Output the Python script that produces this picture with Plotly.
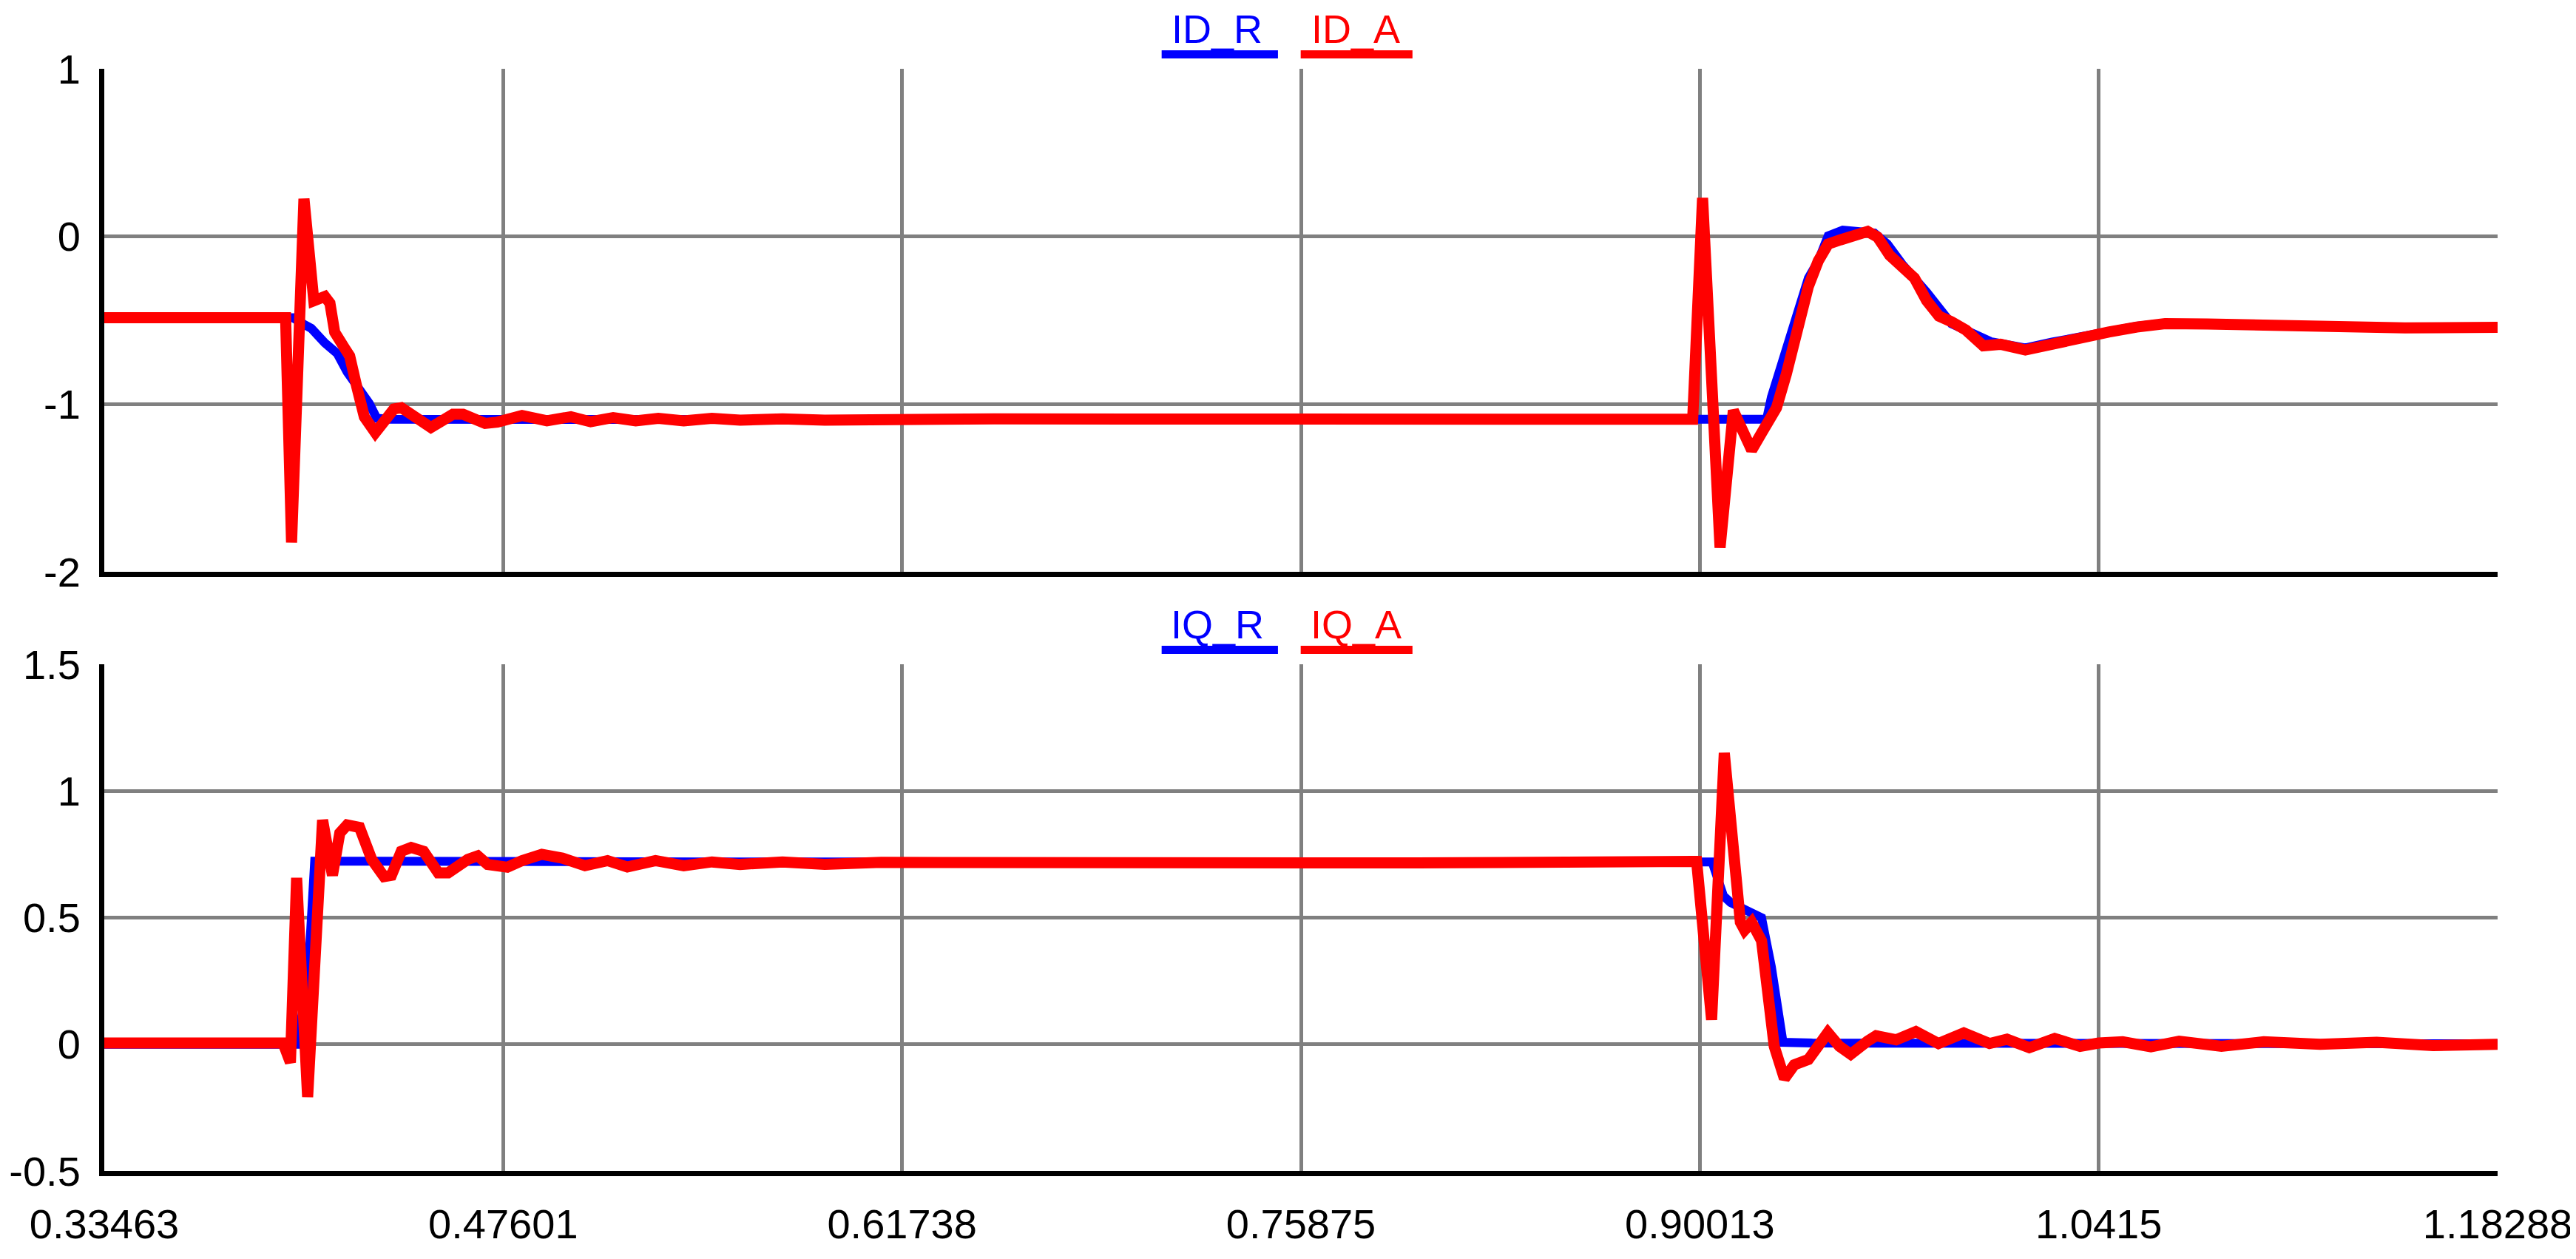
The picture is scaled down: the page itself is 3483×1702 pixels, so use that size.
import plotly.graph_objects as go

# time ticks (seconds) and labels as printed on the plot
x_ticks = [0.33463, 0.476005, 0.61738, 0.758755, 0.90013, 1.041505, 1.18288]
x_labels = ["0.33463", "0.47601", "0.61738", "0.75875", "0.90013", "1.0415", "1.18288"]

id_ticks = [-2, -1, 0, 1]
iq_ticks = [-0.5, 0, 0.5, 1, 1.5]
iq_labels = ["-0.5", "0", "0.5", "1", "1.5"]

# ID_R (reference, blue)
t_id_r = [0.33463, 0.3700, 0.4015, 0.4054, 0.4080, 0.4128, 0.4172, 0.4207, 0.4251, 0.4286,
          0.4312, 0.4360, 0.5500, 0.7000, 0.8500, 0.9238, 0.9255, 0.9299, 0.9343, 0.9386,
          0.9421, 0.9456, 0.9508, 0.9561, 0.9620, 0.9666, 0.9718, 0.9805, 0.9893, 1.0032,
          1.0155, 1.0250, 1.0350, 1.0450, 1.0550, 1.0650, 1.0800, 1.1000, 1.1200, 1.1500,
          1.18288]
id_r = [-0.485, -0.485, -0.485, -0.524, -0.548, -0.635, -0.698, -0.808, -0.902, -0.997,
        -1.084, -1.090, -1.091, -1.090, -1.091, -1.090, -0.958, -0.722, -0.484, -0.248,
        -0.146, 0.004, 0.038, 0.030, 0.020, -0.045, -0.164, -0.331, -0.520, -0.627,
        -0.665, -0.630, -0.595, -0.565, -0.535, -0.518, -0.520, -0.530, -0.540, -0.545,
        -0.540]

# ID_A (actual, red)
t_id_a = [0.33463, 0.3700, 0.3989, 0.4010, 0.4054, 0.4089, 0.4128, 0.4146, 0.4163, 0.4198,
          0.4216, 0.4242, 0.4268, 0.4307, 0.4338, 0.4373, 0.4399, 0.4478, 0.4504, 0.4582,
          0.4618, 0.4696, 0.4740, 0.4827, 0.4915, 0.5000, 0.5070, 0.5150, 0.5230, 0.5310,
          0.5400, 0.5500, 0.5600, 0.5750, 0.5900, 0.6500, 0.7500, 0.8500, 0.8976, 0.9011,
          0.9073, 0.9120, 0.9185, 0.9220, 0.9273, 0.9308, 0.9351, 0.9386, 0.9421, 0.9456,
          0.9500, 0.9543, 0.9596, 0.9631, 0.9674, 0.9718, 0.9762, 0.9805, 0.9849, 0.9893,
          0.9945, 1.0006, 1.0067, 1.0155, 1.0250, 1.0350, 1.0450, 1.0550, 1.0650, 1.0800,
          1.1000, 1.1200, 1.1500, 1.18288]
id_a = [-0.485, -0.485, -0.485, -1.825, 0.225, -0.384, -0.358, -0.398, -0.571, -0.666,
        -0.713, -0.902, -1.076, -1.170, -1.108, -1.029, -1.021, -1.123, -1.139, -1.060,
        -1.060, -1.115, -1.107, -1.068, -1.099, -1.075, -1.105, -1.080, -1.100, -1.085,
        -1.100, -1.085, -1.095, -1.088, -1.095, -1.088, -1.092, -1.089, -1.090, 0.230,
        -1.856, -1.038, -1.274, -1.173, -1.022, -0.820, -0.550, -0.298, -0.146, -0.045,
        -0.020, -0.003, 0.030, -0.003, -0.112, -0.180, -0.248, -0.382, -0.475, -0.508,
        -0.559, -0.652, -0.643, -0.677, -0.640, -0.600, -0.570, -0.540, -0.520, -0.522,
        -0.532, -0.540, -0.545, -0.542]

# IQ_R (reference, blue)
t_iq_r = [0.33463, 0.3700, 0.4028, 0.4067, 0.4092, 0.5500, 0.7000, 0.8500, 0.9045, 0.9085,
          0.9110, 0.9166, 0.9220, 0.9255, 0.9296, 0.9400, 1.0000, 1.1000, 1.18288]
iq_r = [0.0, 0.0, 0.0, 0.240, 0.723, 0.720, 0.722, 0.721, 0.720, 0.586,
        0.560, 0.529, 0.500, 0.305, 0.008, 0.005, 0.004, 0.003, 0.002]

# IQ_A (actual, red)
t_iq_a = [0.33463, 0.3700, 0.3980, 0.4006, 0.4028, 0.4067, 0.4120, 0.4155, 0.4181, 0.4207,
          0.4251, 0.4294, 0.4338, 0.4364, 0.4399, 0.4434, 0.4478, 0.4530, 0.4565, 0.4635,
          0.4670, 0.4705, 0.4775, 0.4827, 0.4897, 0.4970, 0.5050, 0.5130, 0.5200, 0.5300,
          0.5400, 0.5500, 0.5600, 0.5750, 0.5900, 0.6100, 0.7000, 0.8000, 0.8990, 0.9010,
          0.9025, 0.9043, 0.9088, 0.9120, 0.9145, 0.9160, 0.9185, 0.9220, 0.9246, 0.9265,
          0.9301, 0.9336, 0.9386, 0.9446, 0.9455, 0.9496, 0.9536, 0.9596, 0.9626, 0.9697,
          0.9767, 0.9847, 0.9937, 1.0028, 1.0090, 1.0169, 1.0259, 1.0349, 1.0415, 1.0500,
          1.0600, 1.0700, 1.0850, 1.1000, 1.1200, 1.1400, 1.1600, 1.18288]
iq_a = [0.005, 0.005, 0.005, -0.072, 0.657, -0.208, 0.885, 0.667, 0.834, 0.866,
        0.856, 0.730, 0.662, 0.667, 0.762, 0.777, 0.762, 0.677, 0.677, 0.730,
        0.744, 0.710, 0.699, 0.725, 0.750, 0.735, 0.705, 0.725, 0.700, 0.725,
        0.705, 0.720, 0.710, 0.720, 0.710, 0.718, 0.714, 0.716, 0.722, 0.461,
        0.253, 0.097, 1.150, 0.774, 0.482, 0.451, 0.482, 0.409, 0.201, -0.008,
        -0.135, -0.081, -0.060, 0.034, 0.046, -0.008, -0.039, 0.013, 0.034, 0.018,
        0.050, 0.003, 0.045, 0.003, 0.020, -0.013, 0.023, -0.008, 0.005, 0.010,
        -0.010, 0.012, -0.008, 0.010, 0.000, 0.008, -0.005, 0.000]

BLUE = "#0000ff"
RED = "#ff0000"
GRID = "#808080"

fig = go.Figure()
fig.add_trace(go.Scatter(x=t_id_r, y=id_r, mode="lines", line=dict(color=BLUE, width=12),
                         xaxis="x", yaxis="y"))
fig.add_trace(go.Scatter(x=t_id_a, y=id_a, mode="lines", line=dict(color=RED, width=15),
                         xaxis="x", yaxis="y"))
fig.add_trace(go.Scatter(x=t_iq_r, y=iq_r, mode="lines", line=dict(color=BLUE, width=12),
                         xaxis="x2", yaxis="y2"))
fig.add_trace(go.Scatter(x=t_iq_a, y=iq_a, mode="lines", line=dict(color=RED, width=15),
                         xaxis="x2", yaxis="y2"))

tick_font = dict(family="Liberation Sans", size=56, color="black")
xcommon = dict(range=[x_ticks[0], x_ticks[-1]], tickvals=x_ticks, ticktext=x_labels,
               showgrid=True, gridcolor=GRID, gridwidth=5, zeroline=False,
               showline=True, linecolor="black", linewidth=7, ticks="",
               tickfont=tick_font, automargin=False)
ycommon = dict(showgrid=True, gridcolor=GRID, gridwidth=5, zeroline=False,
               showline=True, linecolor="black", linewidth=7, ticks="",
               tickfont=tick_font, ticklabelstandoff=14, automargin=False)

fig.update_layout(
    width=3483, height=1702,
    margin=dict(l=133, r=114, t=85, b=127),
    paper_bgcolor="white", plot_bgcolor="white",
    showlegend=False,
    xaxis=dict(xcommon, domain=[0, 1], anchor="y", showticklabels=False),
    yaxis=dict(ycommon, domain=[0.5436, 1], range=[-2, 1], tickvals=id_ticks,
               ticktext=[str(v) for v in id_ticks], anchor="x"),
    xaxis2=dict(xcommon, domain=[0, 1], anchor="y2", ticklabelstandoff=17),
    yaxis2=dict(ycommon, domain=[0, 0.4597], range=[-0.5, 1.5], tickvals=iq_ticks,
                ticktext=iq_labels, anchor="x2"),
)

# legends drawn as coloured names with a thick bar underneath (PSCAD style)
legend_rows = [(1.0360, 1.0131, "ID_R", "ID_A"), (0.4957, 0.4728, "IQ_R", "IQ_A")]
for ytxt, ybar, name_r, name_a in legend_rows:
    for name, col, xc, x0, x1 in [(name_r, BLUE, 0.4650, 0.4418, 0.4904),
                                  (name_a, RED, 0.5230, 0.4999, 0.5466)]:
        fig.add_annotation(x=xc, y=ytxt, xref="paper", yref="paper", text=name,
                           showarrow=False, xanchor="center", yanchor="middle",
                           font=dict(family="Liberation Sans", size=54, color=col))
        fig.add_shape(type="line", xref="paper", yref="paper", x0=x0, x1=x1,
                      y0=ybar, y1=ybar, line=dict(color=col, width=11))

fig.write_html("out.html")
